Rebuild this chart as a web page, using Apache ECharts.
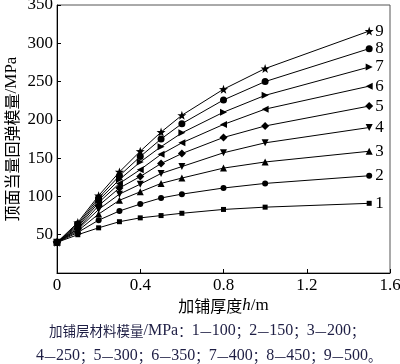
<!DOCTYPE html>
<html><head><meta charset="utf-8">
<script src="https://cdn.jsdelivr.net/npm/echarts@6/dist/echarts.min.js"></script>
<style>html,body{margin:0;padding:0;background:#fff}#c{width:400px;height:364px}</style>
</head><body><div id="c"></div>
<script>
const thickness = [0, 0.1, 0.2, 0.3, 0.4, 0.5, 0.6, 0.8, 1.0, 1.5];
const seriesNames = ['1','2','3','4','5','6','7','8','9'];
const s1 = [40, 50, 59, 67, 72, 75, 78, 83, 86, 91];
const s2 = [40, 53, 69, 81, 90, 98, 103, 111, 117, 127];
const s3 = [40, 55, 77, 95, 106, 117, 124, 137, 145, 159];
const s4 = [40, 57, 83, 103, 116, 130, 139, 157, 170, 190];
const s5 = [40, 58, 88, 111, 126, 143, 156, 177, 192, 218];
const s6 = [40, 60, 92, 117, 135, 155, 170, 194, 214, 244];
const s7 = [40, 62, 95, 122, 145, 165, 183, 210, 232, 269];
const s8 = [40, 64, 98, 127, 152, 175, 195, 226, 250, 293];
const s9 = [40, 66, 101, 132, 159, 184, 206, 240, 267, 316];
const yTicks = [50, 100, 150, 200, 250, 300, 350];
const xTicks = [0, 0.4, 0.8, 1.2, 1.6];
const yAxisTitle = '顶面当量回弹模量/MPa';
const xAxisTitle = '加铺厚度{i|h}/m';
const captionLine1 = '加铺层材料模量/MPa：1—100；2—150；3—200；';
const captionLine2 = '4—250；5—300；6—350；7—400；8—450；9—500。';

const allData = [s1, s2, s3, s4, s5, s6, s7, s8, s9];
const star = 'path://M0,-10 L2.35,-3.24 L9.51,-3.09 L3.8,1.24 L5.88,8.09 L0,4 L-5.88,8.09 L-3.8,1.24 L-9.51,-3.09 L-2.35,-3.24 Z';
const symbols = [
  {s:'rect', r:0, z:5},
  {s:'circle', r:0, z:6},
  {s:'triangle', r:0, z:7},
  {s:'triangle', r:180, z:7},
  {s:'diamond', r:0, z:8},
  {s:'triangle', r:90, z:7},
  {s:'triangle', r:-90, z:7},
  {s:'circle', r:0, z:7},
  {s:star, r:0, z:9}
];
const serif = '"Liberation Serif","Times New Roman","DejaVu Serif",serif';
const cjk = '"Noto Sans CJK SC","Liberation Serif",sans-serif';
const captionColor = '#1e1e44';

function richify(s) {
  return s.replace(/[^\x00-\x7F]+/g, m => '{c|' + m + '}');
}

const series = allData.map((d, i) => ({
  name: seriesNames[i],
  type: 'line',
  data: d.map((v, j) => [thickness[j], v]),
  symbol: symbols[i].s,
  symbolRotate: symbols[i].r,
  symbolSize: symbols[i].z,
  lineStyle: {color: '#000', width: 1},
  itemStyle: {color: '#000'},
  showAllSymbol: true,
  animation: false,
  endLabel: {show: true, formatter: seriesNames[i], color: '#000', fontFamily: serif, fontSize: 17, distance: 6}
}));

const chart = echarts.init(document.getElementById('c'), null, {renderer: 'canvas'});
chart.setOption({
  animation: false,
  backgroundColor: '#fff',
  title: [
    {text: richify(captionLine1), left: 44, top: 318,
     textStyle: {fontSize: 16, fontWeight: 'normal', color: captionColor, fontFamily: serif,
       rich: {c: {fontSize: 13.5, fontFamily: cjk, color: captionColor}}}},
    {text: richify(captionLine2), left: 31, top: 343,
     textStyle: {fontSize: 16, fontWeight: 'normal', color: captionColor, fontFamily: serif,
       rich: {c: {fontSize: 13.5, fontFamily: cjk, color: captionColor}}}}
  ],
  grid: {left: 57, right: 10, top: 5, bottom: 91, show: true, borderColor: '#555', borderWidth: 1,
         containLabel: false, outerBoundsMode: 'none'},
  xAxis: {
    type: 'value', min: 0, max: 1.6, interval: 0.4,
    name: richify(xAxisTitle.replace('{i|h}', '\u0001')).replace('\u0001', '{i|h}'),
    nameLocation: 'middle', nameGap: 24, nameMoveOverlap: false,
    nameTextStyle: {fontSize: 17, color: '#000', fontFamily: serif,
      rich: {i: {fontStyle: 'italic', fontSize: 17, fontFamily: serif, color: '#000'},
             c: {fontSize: 16, fontFamily: cjk, color: '#000'}}},
    axisLine: {lineStyle: {color: '#000'}},
    axisTick: {inside: true, length: 4, lineStyle: {color: '#000'}},
    axisLabel: {color: '#000', fontSize: 17, fontFamily: serif, margin: 4,
      formatter: v => { const t = xTicks.find(x => Math.abs(x - v) < 1e-9); return t === undefined ? '' : (t === 0 ? '0' : t.toFixed(1)); }},
    splitLine: {show: false}
  },
  yAxis: {
    type: 'value', min: 0, max: 350, interval: 50,
    name: richify(yAxisTitle), nameLocation: 'middle', nameGap: 37, nameMoveOverlap: false,
    nameTextStyle: {fontSize: 17, color: '#000', fontFamily: serif,
      rich: {c: {fontSize: 16, fontFamily: cjk, color: '#000'}}},
    axisLine: {show: true, lineStyle: {color: '#000'}},
    axisTick: {inside: true, length: 4, lineStyle: {color: '#000'}},
    axisLabel: {color: '#000', fontSize: 17, fontFamily: serif, margin: 4,
      formatter: v => yTicks.includes(v) ? String(v) : ''},
    splitLine: {show: false}
  },
  series: series
});
</script></body></html>
